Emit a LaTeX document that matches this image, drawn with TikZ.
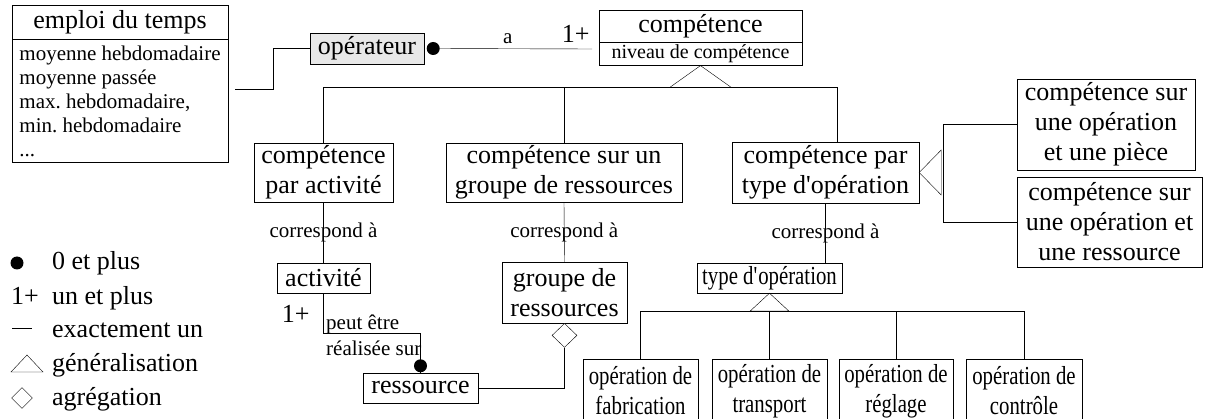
\documentclass[tikz,border=0pt]{standalone}
\usepackage{fontspec}
\setmainfont{Liberation Serif}
\newfontfamily\etroit[FakeStretch=0.8]{Liberation Serif}
\usetikzlibrary{shapes.geometric}
\newcommand\grand{\fontsize{26}{30}\selectfont}
\newcommand\moyen{\fontsize{21}{24}\selectfont}
\newcommand\petit{\fontsize{20}{23}\selectfont}
\frenchspacing
\begin{document}
\begin{tikzpicture}[x=1pt,y=-1pt]
\tikzstyle{every node}=[font=\grand]
\tikzstyle{classe}=[draw, align=center, inner sep=0pt]
\tikzstyle{sousclasse}=[classe, font=\grand\etroit]
\tikzstyle{lien}=[font=\moyen]
\tikzstyle{agreg}=[draw, diamond, inner sep=0pt, fill=white]
\useasboundingbox (0,0) rectangle (1221,419);
	\node[classe, minimum width=216, minimum height=34] (emploi) at (120,22) {emploi du temps};
	\node[classe, anchor=north, minimum width=216, minimum height=123, align=left, font=\moyen] (emploiattr) at (emploi.south) {moyenne hebdomadaire\\moyenne passée\\max. hebdomadaire,\\min. hebdomadaire\\...};
	\node[classe, fill=gray!18, minimum width=114, minimum height=31] (oper) at (367,48.5) {opérateur};
	\node[classe, minimum width=203, minimum height=32] (comp) at (700.5,26) {compétence};
	\node[classe, anchor=north, minimum width=203, minimum height=23, font=\petit] (compattr) at (comp.south) {niveau de compétence};
	\node[classe, minimum width=139, minimum height=59] (compact) at (323.5,172.5) {compétence\\par activité};
	\node[classe, minimum width=236, minimum height=59] (compgrp) at (564,172.5) {compétence sur un\\groupe de ressources};
	\node[classe, minimum width=187, minimum height=61] (comptyp) at (825.5,172.5) {compétence par\\type d\textquotesingle opération};
	\node[classe, minimum width=178, minimum height=91] (comppiece) at (1106,124.5) {compétence sur\\une opération\\et une pièce};
	\node[classe, minimum width=185, minimum height=90] (compres) at (1109.5,222) {compétence sur\\une opération et\\une ressource};
	\node[classe, minimum width=93, minimum height=30] (act) at (323.5,278) {activité};
	\node[classe, minimum width=125, minimum height=61] (grp) at (564.5,292.5) {groupe de\\ressources};
	\node[classe, minimum width=115, minimum height=30] (res) at (420.5,388) {ressource};
	\node[sousclasse, minimum width=145, minimum height=30] (typ) at (769.5,278) {type d\textquotesingle opération};
	\node[sousclasse, minimum width=115, minimum height=64] (fab) at (640.5,391) {opération de\\fabrication};
	\node[sousclasse, minimum width=115, minimum height=64] (trs) at (769.5,391) {opération de\\transport};
	\node[sousclasse, minimum width=114, minimum height=64] (reg) at (896,391) {opération de\\réglage};
	\node[sousclasse, minimum width=116, minimum height=64] (ctl) at (1024,391) {opération de\\contrôle};

	\coordinate (edt) at (235,89);
	\draw (edt) -- ++(38,0) |- (oper.west);
	\fill ([xshift=9pt]oper.east) circle (6.5);
	\coordinate (un) at (592,49);
	\draw ([xshift=9pt]oper.east) -- (un) node[pos=0.47, above=1pt, lien] (a) {a};
	\node[anchor=base east] (unplus) at (593,43) {1+};

	\draw (compattr.south) -- ++(-31,22) -- ++(62,0) -- cycle;
	\coordinate (g1) at (837,87);
	\draw (compact.north) |- (g1) -- (g1 |- comptyp.north);
	\draw (compgrp.north) -- (compgrp.north |- g1);

	\draw (comptyp.east) -- ++(22,-22.5) -- ++(0,45) -- cycle;
	\coordinate (g2) at (943,173);
	\draw (comppiece.west) -| (g2) |- (compres.west);

	\draw (compact.south) -- (act.north) node[midway, lien] (c1) {correspond à};
	\draw (compgrp.south) -- (grp.north) node[midway, lien] (c2) {correspond à};
	\draw (comptyp.south) -- (comptyp.south |- typ.north) node[midway, lien] (c3) {correspond à};

	\draw (act.south) -- ++(0,40) -| (res.north);
	\fill ([yshift=7pt]res.north) circle (6.5);
	\node[anchor=base east] (unplus2) at (313,323) {1+};
	\node[anchor=base west, lien, inner sep=0pt] (peut) at (326,330) {peut être};
	\node[anchor=base west, lien, inner sep=0pt] (real) at (326,356) {réalisée sur};

	\node[agreg, minimum width=25, minimum height=24, anchor=north] (agr) at (grp.south) {};
	\draw (res.east) -| (agr.south);

	\draw (typ.south) -- ++(-19.5,18) -- ++(39,0) -- cycle;
	\coordinate (g3) at (641,311);
	\draw (fab.north) -- (fab.north |- g3) -- (ctl.north |- g3) -- (ctl.north);
	\draw (trs.north) -- (trs.north |- g3);
	\draw (reg.north) -- (reg.north |- g3);

	\fill (17,263) circle (6.5);
	\node[anchor=base west, inner sep=0pt] (l0) at (52,270) {0 et plus};
	\node[anchor=base west, inner sep=0pt] (l1s) at (11,305) {1+};
	\node[anchor=base west, inner sep=0pt] (l1) at (52,305) {un et plus};
	\draw (12,328) -- (32,328);
	\node[anchor=base west, inner sep=0pt] (l2) at (52,338) {exactement un};
	\draw (11,372) -- (27,355) -- (43,372) -- cycle;
	\node[anchor=base west, inner sep=0pt] (l3) at (52,372) {généralisation};
	\node[agreg, minimum width=21, minimum height=21] (l4s) at (22,398) {};
	\node[anchor=base west, inner sep=0pt] (l4) at (52,406) {agrégation};
\end{tikzpicture}
\end{document}
